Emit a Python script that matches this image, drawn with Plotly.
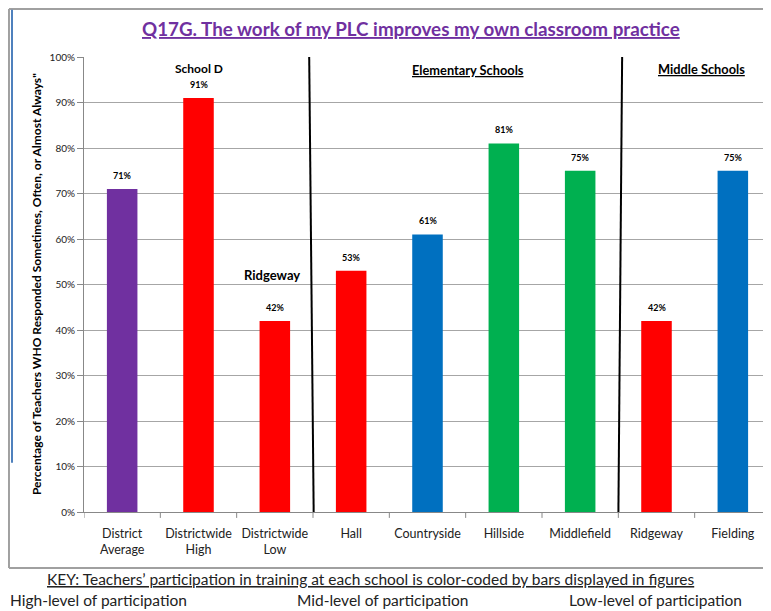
import plotly.graph_objects as go

categories = ["District<br>Average", "Districtwide<br>High", "Districtwide<br>Low", "Hall",
              "Countryside", "Hillside", "Middlefield", "Ridgeway", "Fielding"]
values = [71, 91, 42, 53, 61, 81, 75, 42, 75]
bar_colors = ["#7030A0", "#FF0000", "#FF0000", "#FF0000", "#0070C0",
              "#00B050", "#00B050", "#FF0000", "#0070C0"]
value_labels = ["71%", "91%", "42%", "53%", "61%", "81%", "75%", "42%", "75%"]

title = "Q17G. The work of my PLC improves my own classroom practice"
y_title = "Percentage of Teachers WHO Responded Sometimes, Often, or Almost Always\""
key_title = "KEY: Teachers’ participation in training at each school is color-coded by bars displayed in figures"
key_items = ["High-level of participation", "Mid-level of participation", "Low-level of participation"]

FONT = "Lato, Open Sans, sans-serif"
xpos = list(range(len(categories)))
yvals = [v / 100 for v in values]

fig = go.Figure()
fig.add_trace(go.Bar(x=xpos, y=yvals, marker=dict(color=bar_colors, line=dict(width=0)),
                     width=0.4, hoverinfo="skip"))

annotations = []
for xi, yv, lab in zip(xpos, yvals, value_labels):
    annotations.append(dict(x=xi, y=yv, xref="x", yref="y", text="<b>" + lab + "</b>",
                            showarrow=False, yanchor="bottom", yshift=6,
                            font=dict(size=9, color="#000000", family=FONT)))

annotations += [
    dict(x=0.476, y=1.0637, xref="paper", yref="paper", text="<b><u>" + title + "</u></b>",
         showarrow=False, xanchor="center", yanchor="middle",
         font=dict(size=18.8, color="#7030A0", family=FONT)),
    dict(x=1, y=0.974, xref="x", yref="y", text="<b>School D</b>", showarrow=False,
         font=dict(size=12, color="#000000", family=FONT)),
    dict(x=4.53, y=0.971, xref="x", yref="y", text="<b><u>Elementary Schools</u></b>", showarrow=False,
         font=dict(size=12.8, color="#000000", family=FONT)),
    dict(x=7.59, y=0.974, xref="x", yref="y", text="<b><u>Middle Schools</u></b>", showarrow=False,
         font=dict(size=12.8, color="#000000", family=FONT)),
    dict(x=1.96, y=0.521, xref="x", yref="y", text="<b>Ridgeway</b>", showarrow=False,
         font=dict(size=13, color="#000000", family=FONT)),
    dict(x=-0.0699, y=0.501, xref="paper", yref="paper", text="<b>" + y_title + "</b>",
         showarrow=False, textangle=-90, xanchor="center", yanchor="middle",
         font=dict(size=12, color="#000000", family=FONT)),
    dict(x=-0.0568, y=-0.1473, xref="paper", yref="paper", xanchor="left", yanchor="middle",
         text="<u>" + key_title + "</u>", showarrow=False,
         font=dict(size=15.5, color="#222222", family=FONT)),
]
for kx, item in zip([-0.1106, 0.307, 0.703], key_items):
    annotations.append(dict(x=kx, y=-0.1945, xref="paper", yref="paper", xanchor="left",
                            yanchor="middle", text=item, showarrow=False,
                            font=dict(size=15.5, color="#222222", family=FONT)))

shapes = [
    # outer frame
    dict(type="line", xref="paper", yref="paper", x0=-0.1092, x1=1.05, y0=1.1055, y1=1.1055,
         line=dict(color="#A0A0A0", width=2)),
    dict(type="line", xref="paper", yref="paper", x0=-0.1092, x1=-0.1092, y0=1.1055, y1=-0.123,
         line=dict(color="#A0A0A0", width=2)),
    dict(type="line", xref="paper", yref="paper", x0=-0.1092, x1=1.05, y0=-0.123, y1=-0.123,
         line=dict(color="#A0A0A0", width=2)),
    dict(type="line", xref="paper", yref="paper", x0=-0.1048, x1=-0.1048, y0=1.104, y1=0.108,
         line=dict(color="#4F81BD", width=2)),
    # section separators
    dict(type="line", xref="x", yref="y", x0=2.45, x1=2.51, y0=1.004, y1=-0.02,
         line=dict(color="#000000", width=2)),
    dict(type="line", xref="x", yref="y", x0=6.55, x1=6.50, y0=1.004, y1=-0.02,
         line=dict(color="#000000", width=2)),
]

fig.update_layout(
    width=763, height=603,
    margin=dict(l=76, r=0, t=49, b=99),
    paper_bgcolor="#FFFFFF", plot_bgcolor="#FFFFFF",
    showlegend=False, bargap=0.6,
    font=dict(family=FONT),
    annotations=annotations, shapes=shapes,
    xaxis=dict(tickmode="array", tickvals=xpos, ticktext=categories, range=[-0.5, 8.5],
               showgrid=False, showline=True, linecolor="#888888", linewidth=1,
               ticks="", ticklabelstandoff=10, tickfont=dict(size=12.5, color="#222222", family=FONT),
               zeroline=False, fixedrange=True),
    yaxis=dict(range=[0, 1], dtick=0.1, tickformat=".0%", showgrid=True, gridcolor="#A6A6A6",
               gridwidth=1, showline=True, linecolor="#888888", linewidth=1, ticks="outside",
               ticklen=6, tickcolor="#888888", tickfont=dict(size=10, color="#222222", family=FONT),
               zeroline=False, fixedrange=True),
)

# category boundary ticks on the x axis
for b in [i - 0.5 for i in range(len(categories) + 1)]:
    fig.add_shape(type="line", xref="x", yref="paper", x0=b, x1=b, y0=0, y1=-0.013,
                  line=dict(color="#888888", width=1))

fig.write_html("out.html")
